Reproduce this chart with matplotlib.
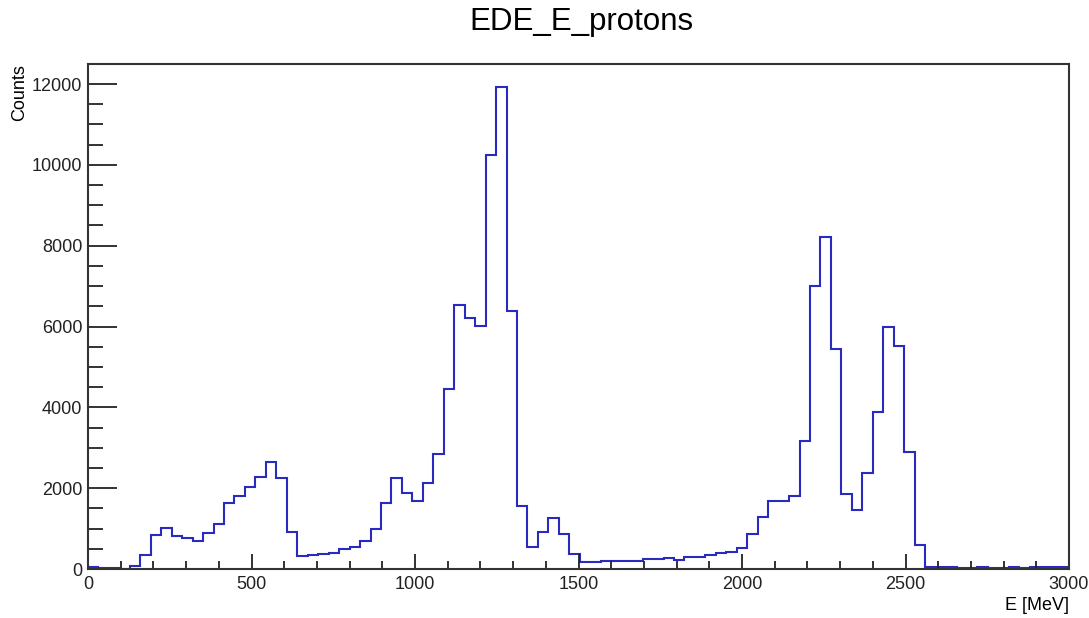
import numpy as np
import matplotlib
matplotlib.use("Agg")
import matplotlib.pyplot as plt
from matplotlib.ticker import MultipleLocator

plt.rcParams['font.family'] = ['Liberation Sans', 'DejaVu Sans']

# histogram binning (32 MeV bins, shown range 0-3000)
bin_width = 32
counts = [40, 30, 15, 10, 80, 355, 840, 1015, 825, 760,
          700, 880, 1115, 1625, 1815, 2020, 2270, 2655, 2245, 925,
          330, 335, 370, 395, 490, 535, 700, 985, 1625, 2250,
          1873, 1675, 2120, 2845, 4455, 6534, 6210, 6010, 10246, 11938,
          6380, 1550, 553, 907, 1262, 866, 371, 170, 170, 200,
          190, 190, 198, 240, 240, 264, 214, 290, 290, 355,
          388, 430, 528, 866, 1295, 1675, 1690, 1815, 3170, 7010,
          8210, 5445, 1856, 1460, 2368, 3894, 5998, 5511, 2888, 602,
          45, 50, 40, 30, 35, 40, 35, 30, 40, 35,
          45, 55, 60, 55, 50]
edges = np.arange(len(counts) + 1) * bin_width

title = "EDE_E_protons"
xlabel = "E [MeV]"
ylabel = "Counts"

W, H = 1089, 618
fig = plt.figure(figsize=(W / 100, H / 100), dpi=100)
ax = fig.add_axes([88 / W, 1 - 569 / H, (1069 - 88) / W, (569 - 64) / H])

ax.stairs(counts, edges, color='#2a2ac0', linewidth=1.5, baseline=None)

ax.set_xlim(0, 3000)
ax.set_ylim(0, 12495)

ax.xaxis.set_major_locator(MultipleLocator(500))
ax.xaxis.set_minor_locator(MultipleLocator(100))
ax.yaxis.set_major_locator(MultipleLocator(2000))
ax.yaxis.set_minor_locator(MultipleLocator(500))

ax.tick_params(axis='both', which='both', direction='in', colors='#222222',
               labelsize=13, width=1.3)
ax.tick_params(axis='x', which='major', length=11, pad=5)
ax.tick_params(axis='x', which='minor', length=5.5)
ax.tick_params(axis='y', which='major', length=21, pad=4)
ax.tick_params(axis='y', which='minor', length=11)

for sp in ax.spines.values():
    sp.set_linewidth(1.5)
    sp.set_color('#333333')

fig.text(581 / W, 1 - 22 / H, title, ha='center', va='center', fontsize=22.5)
fig.text(20 / W, 1 - 64 / H, ylabel, ha='center', va='top', rotation=90, fontsize=13)
fig.text(1069 / W, 1 - 606 / H, xlabel, ha='right', va='center', fontsize=13)

fig.savefig("out.png", dpi=100)
